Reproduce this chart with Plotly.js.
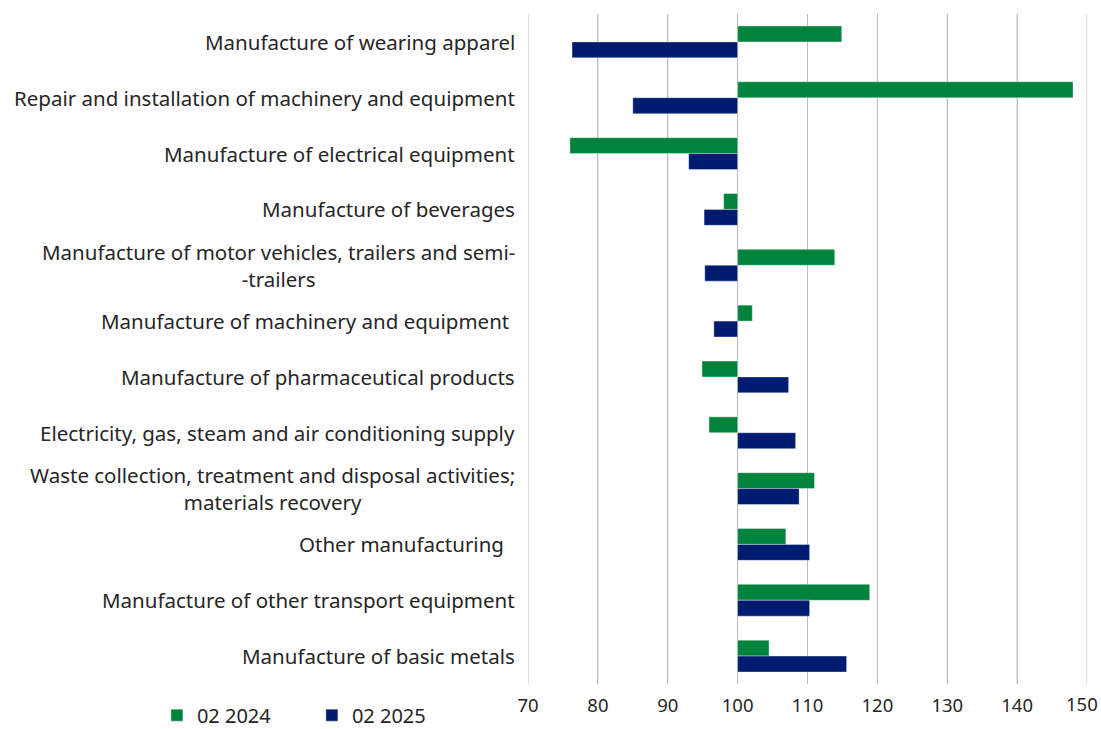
<!DOCTYPE html>
<html>
<head>
<meta charset="utf-8">
<script src="https://cdn.plot.ly/plotly-3.0.1.min.js"></script>
<style>html,body{margin:0;padding:0;background:#fff;}#chart{width:1101px;height:729px;}</style>
</head>
<body>
<div id="chart"></div>
<script>
const categories = [
  "Manufacture of wearing apparel",
  "Repair and installation of machinery and equipment",
  "Manufacture of electrical equipment",
  "Manufacture of beverages",
  "Manufacture of motor vehicles, trailers and semi-<br>-trailers",
  "Manufacture of machinery and equipment\u00a0",
  "Manufacture of pharmaceutical products",
  "Electricity, gas, steam and air conditioning supply",
  "Waste collection, treatment and disposal activities;<br>materials recovery",
  "Other manufacturing\u00a0\u00a0",
  "Manufacture of other transport equipment",
  "Manufacture of basic metals"
];
const series2024Name = "02 2024";
const series2025Name = "02 2025";
const values2024 = [114.9, 148.0, 76.0, 98.0, 113.9, 102.1, 94.9, 95.9, 111.0, 106.9, 118.9, 104.5];
const values2025 = [76.3, 85.0, 93.0, 95.2, 95.3, 96.6, 107.3, 108.3, 108.8, 110.3, 110.3, 115.6];
const baseValue = 100;
const xTicks = [70, 80, 90, 100, 110, 120, 130, 140, 150];

const ids = categories.map((c, i) => "c" + i);
const font = "'Noto Sans', 'Open Sans', sans-serif";
const textColor = "#262626";
const lastTick = xTicks[xTicks.length - 1];

const traces = [
  {
    type: "bar", orientation: "h", name: series2024Name,
    y: ids, x: values2024.map(v => v - baseValue), base: baseValue,
    marker: {color: "#00843D", line: {color: "rgba(255,255,255,0.6)", width: 0.6}}
  },
  {
    type: "bar", orientation: "h", name: series2025Name,
    y: ids, x: values2025.map(v => v - baseValue), base: baseValue,
    marker: {color: "#001C71", line: {color: "rgba(255,255,255,0.6)", width: 0.6}}
  }
];

const annotations = categories.map((c, i) => ({
  xref: "paper", yref: "y", x: -0.0197, y: ids[i],
  xanchor: "right", yanchor: "middle", align: "center",
  text: c, showarrow: false,
  font: {family: font, size: 20.5, color: textColor}
}));
// last tick label, kept inside the page's right edge
annotations.push({
  xref: "x", yref: "paper", x: lastTick, y: 0, yanchor: "top", yshift: -5,
  xanchor: "right", xshift: 13, text: String(lastTick), showarrow: false,
  font: {family: font, size: 18.5, color: textColor}
});

const layout = {
  width: 1101, height: 729,
  margin: {l: 528, r: 14, t: 14, b: 45},
  paper_bgcolor: "#fff", plot_bgcolor: "#fff",
  barmode: "group", bargap: 0.43, bargroupgap: 0,
  font: {family: font, size: 17, color: textColor},
  xaxis: {
    range: [70, 150], tickvals: xTicks,
    ticktext: xTicks.map(t => t === lastTick ? "" : String(t)),
    showgrid: true, gridcolor: "#bdbdbd", gridwidth: 1,
    zeroline: false, showline: false, ticks: "",
    tickfont: {family: font, size: 18.5, color: textColor},
    ticklabelstandoff: 8, automargin: false,
    fixedrange: true
  },
  yaxis: {
    type: "category", categoryorder: "array", categoryarray: ids,
    autorange: "reversed", showticklabels: false, showgrid: false,
    zeroline: false, ticks: "", fixedrange: true, automargin: false
  },
  shapes: xTicks.map(t => ({
    type: "line", xref: "x", yref: "paper", x0: t, x1: t, y0: 0, y1: 1,
    line: {color: "#bdbdbd", width: 1}, layer: "below"
  })),
  showlegend: true,
  legend: {
    orientation: "h", xref: "container", yref: "container",
    x: 0.1425, xanchor: "left", y: 0.019, yanchor: "middle",
    font: {family: font, size: 20, color: textColor},
    itemwidth: 30, entrywidth: 110, traceorder: "normal",
    bgcolor: "rgba(0,0,0,0)"
  },
  annotations: annotations
};

Plotly.newPlot("chart", traces, layout, {displayModeBar: false, staticPlot: true});
</script>
</body>
</html>
